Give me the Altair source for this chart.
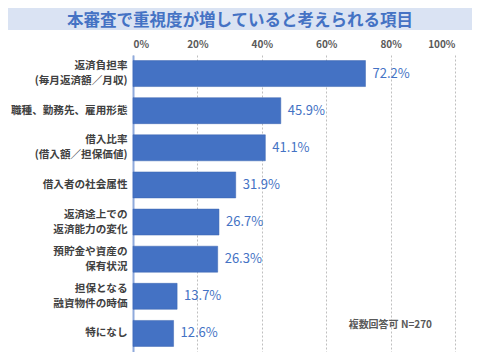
import altair as alt
import pandas as pd

categories = [
    "返済負担率\n(毎月返済額／月収)",
    "職種、勤務先、雇用形態",
    "借入比率\n(借入額／担保価値)",
    "借入者の社会属性",
    "返済途上での\n返済能力の変化",
    "預貯金や資産の\n保有状況",
    "担保となる\n融資物件の時価",
    "特になし",
]
values = [72.2, 45.9, 41.1, 31.9, 26.7, 26.3, 13.7, 12.6]
x_ticks = [0, 20, 40, 60, 80, 100]
title_text = "本審査で重視度が増していると考えられる項目"
note_text = "複数回答可 N=270"

FONT = "Noto Sans CJK JP"
BLUE = "#4472c4"

df = pd.DataFrame({"cat": categories, "val": values})
df["lab"] = df["val"].map(lambda v: f"{v:.1f}%")

base = alt.Chart(df)

y_enc = alt.Y(
    "cat:N",
    sort=categories,
    scale=alt.Scale(paddingInner=0.3, paddingOuter=0.15),
    axis=alt.Axis(
        title=None,
        labelExpr="split(datum.label, '\\n')",
        labelFont=FONT,
        labelFontSize=10.6,
        labelFontWeight="bold",
        labelColor="#404040",
        labelLineHeight=15,
        labelPadding=6,
        labelOffset={"condition": {"test": "indexof(datum.label, '\\n') >= 0", "value": -7.5}, "value": 0},
        ticks=False,
        domain=True,
        domainColor="#8faadc",
        domainWidth=2,
        labelLimit=200,
    ),
)

x_enc = alt.X(
    "val:Q",
    scale=alt.Scale(domain=[0, 100], nice=False),
    axis=alt.Axis(
        orient="top",
        values=x_ticks,
        title=None,
        labelExpr="datum.value + '%'",
        labelFont=FONT,
        labelFontSize=10,
        labelFontWeight="bold",
        labelColor="#595959",
        labelPadding=6,
        ticks=False,
        domain=False,
        grid=True,
        gridColor="#bfbfbf",
        gridDash=[2, 2],
        gridWidth=1,
    ),
)

bars = base.mark_bar(color=BLUE, stroke="#3a64b0", strokeWidth=0.5).encode(x=x_enc, y=y_enc)

labels = base.mark_text(
    align="left", baseline="middle", dx=7, font=FONT, fontSize=13, color=BLUE
).encode(x="val:Q", y=alt.Y("cat:N", sort=categories), text="lab:N")

band = alt.Chart(pd.DataFrame({"t": [title_text]})).mark_rect(color="#dae3f3").encode(
    x=alt.value(-125), x2=alt.value(339), y=alt.value(-47), y2=alt.value(-25)
)
title = alt.Chart(pd.DataFrame({"t": [title_text]})).mark_text(
    font=FONT, fontSize=16.5, fontWeight="bold", color=BLUE, align="center", baseline="middle"
).encode(x=alt.value(107), y=alt.value(-34.5), text="t:N")

note = alt.Chart(pd.DataFrame({"t": [note_text]})).mark_text(
    font=FONT, fontSize=10, fontWeight="bold", color="#595959", align="right", baseline="middle"
).encode(x=alt.value(299), y=alt.value(270), text="t:N")

chart = alt.layer(band, title, bars, labels, note).properties(
    width=322,
    height=297,
    autosize=alt.AutoSizeParams(type="none"),
    padding={"left": 125, "top": 47, "right": 17, "bottom": 0},
).configure_view(stroke=None)

chart.save("out.html", embed_options={"renderer": "svg", "actions": False})
